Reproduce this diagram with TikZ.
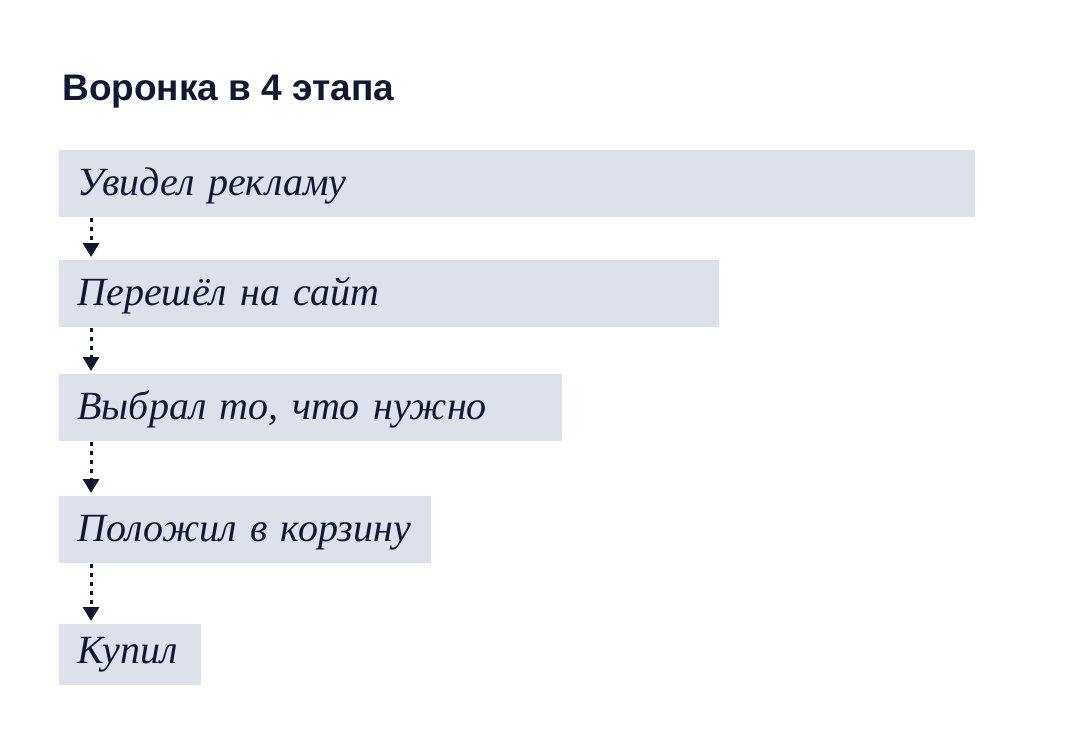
\documentclass[tikz,border=0pt]{standalone}
\usepackage{fontspec}
\setmainfont{Liberation Serif}
\setsansfont{Liberation Sans}
\usepackage{xcolor}
\usetikzlibrary{arrows.meta,calc}
\definecolor{barfill}{HTML}{DCE1EC}
\definecolor{ink}{HTML}{111831}

\begin{document}
\begin{tikzpicture}[line join=round,x=0.5pt,y=-0.5pt,
        bar/.style={fill=barfill,anchor=north west,inner xsep=9pt,inner ysep=0pt,text width=#1,align=left,text height=22.5pt,text depth=11pt,font=\fontsize{20}{24}\selectfont\itshape,text=ink},
        flow/.style={draw=ink,line width=1.5pt,dash pattern=on 2pt off 2.5pt,-{Triangle[width=8pt,length=7pt]},shorten >=1.5pt}]
                \useasboundingbox (0,0) rectangle (1080,754);
                \node[anchor=base west,inner sep=0pt,text=ink,font=\sffamily\bfseries\fontsize{18.5}{22}\selectfont] (title) at (62,101) {Воронка в 4 этапа};
                \node[bar=440pt] (s1) at (59,150) {Увидел рекламу};
                \node[bar=312pt] (s2) at (59,260) {Перешёл на сайт};
                \node[bar=233.5pt] (s3) at (59,374) {Выбрал то, что нужно};
                \node[bar=168pt] (s4) at (59,496) {Положил в корзину};
                \node[bar=53pt,text height=19.5pt,text depth=11pt] (s5) at (59,624) {Купил};
                \draw [flow] ($(s1.south west)+(32,0)$) -- ($(s2.north west)+(32,0)$);
                \draw [flow] ($(s2.south west)+(32,0)$) -- ($(s3.north west)+(32,0)$);
                \draw [flow] ($(s3.south west)+(32,0)$) -- ($(s4.north west)+(32,0)$);
                \draw [flow] ($(s4.south west)+(32,0)$) -- ($(s5.north west)+(32,0)$);
            \end{tikzpicture}
\end{document}
